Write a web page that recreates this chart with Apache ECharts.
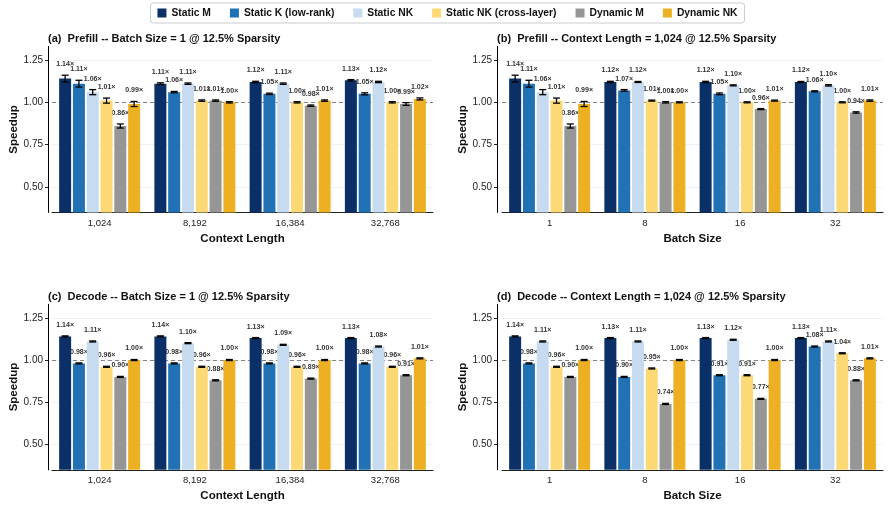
<!DOCTYPE html>
<html>
<head>
<meta charset="utf-8">
<script src="https://cdn.jsdelivr.net/npm/echarts@6/dist/echarts.min.js"></script>
<style>
  html, body { margin: 0; padding: 0; background: #fff; }
  #echarts { width: 895px; height: 507px; }
</style>
</head>
<body>
<div id="echarts"></div>
<script>
// series / categories
var seriesNames = ['Static M', 'Static K (low-rank)', 'Static NK', 'Static NK (cross-layer)', 'Dynamic M', 'Dynamic NK'];
var colors = ['#0b3067', '#2171b5', '#c6dbef', '#fdd976', '#969696', '#ecb022'];
var contextLabels = ['1,024', '8,192', '16,384', '32,768'];
var batchLabels = ['1', '8', '16', '32'];
var yTicks = [0.5, 0.75, 1.0, 1.25];

// (a) prefill, batch size 1 -- one row per series, one column per context length
var prefillCtx = [
  [1.14, 1.11, 1.12, 1.13],
  [1.11, 1.06, 1.05, 1.05],
  [1.06, 1.11, 1.11, 1.12],
  [1.01, 1.01, 1.00, 1.00],
  [0.86, 1.01, 0.98, 0.99],
  [0.99, 1.00, 1.01, 1.02]
];
var prefillCtxErr = [
  [0.020, 0.005, 0.004, 0.004],
  [0.020, 0.004, 0.004, 0.006],
  [0.015, 0.004, 0.004, 0.004],
  [0.015, 0.004, 0.004, 0.004],
  [0.012, 0.004, 0.004, 0.008],
  [0.015, 0.004, 0.004, 0.006]
];
// (b) prefill, context length 1,024 -- columns are batch sizes
var prefillBatch = [
  [1.14, 1.12, 1.12, 1.12],
  [1.11, 1.07, 1.05, 1.065],
  [1.06, 1.12, 1.10, 1.10],
  [1.01, 1.01, 1.00, 1.00],
  [0.86, 1.00, 0.96, 0.94],
  [0.99, 1.00, 1.01, 1.01]
];
var prefillBatchErr = [
  [0.020, 0.004, 0.004, 0.003],
  [0.020, 0.005, 0.005, 0.003],
  [0.015, 0.003, 0.003, 0.004],
  [0.015, 0.003, 0.003, 0.003],
  [0.012, 0.004, 0.003, 0.004],
  [0.015, 0.003, 0.003, 0.004]
];
// (c) decode, batch size 1
var decodeCtx = [
  [1.14, 1.14, 1.13, 1.13],
  [0.98, 0.98, 0.98, 0.98],
  [1.11, 1.10, 1.09, 1.08],
  [0.96, 0.96, 0.96, 0.96],
  [0.90, 0.88, 0.89, 0.91],
  [1.00, 1.00, 1.00, 1.01]
];
// (d) decode, context length 1,024
var decodeBatch = [
  [1.14, 1.13, 1.13, 1.13],
  [0.98, 0.90, 0.91, 1.08],
  [1.11, 1.11, 1.12, 1.11],
  [0.96, 0.95, 0.91, 1.04],
  [0.90, 0.74, 0.77, 0.88],
  [1.00, 1.00, 1.00, 1.01]
];
var decodeErr = [
  [0.003, 0.003, 0.003, 0.003],
  [0.003, 0.003, 0.003, 0.003],
  [0.003, 0.003, 0.003, 0.003],
  [0.003, 0.003, 0.003, 0.003],
  [0.003, 0.003, 0.003, 0.003],
  [0.003, 0.003, 0.003, 0.003]
];

var panels = [
  { title: '(a)  Prefill -- Batch Size = 1 @ 12.5% Sparsity', cats: contextLabels, xName: 'Context Length', vals: prefillCtx, errs: prefillCtxErr, left: 52, top: 46.4, height: 166, offset: 4 },
  { title: '(b)  Prefill -- Context Length = 1,024 @ 12.5% Sparsity', cats: batchLabels, xName: 'Batch Size', vals: prefillBatch, errs: prefillBatchErr, left: 502, top: 46.4, height: 166, offset: 5 },
  { title: '(c)  Decode -- Batch Size = 1 @ 12.5% Sparsity', cats: contextLabels, xName: 'Context Length', vals: decodeCtx, errs: decodeErr, left: 52, top: 304.3, height: 165.5, offset: 4 },
  { title: '(d)  Decode -- Context Length = 1,024 @ 12.5% Sparsity', cats: batchLabels, xName: 'Batch Size', vals: decodeBatch, errs: decodeErr, left: 502, top: 304.3, height: 165.5, offset: 5 }
];

var BAR_W = 12;
var BAR_GAP = 0.15;
var FONT = 'Liberation Sans';

function barX(api, c, v, s) {
  var p = api.coord([c, v]);
  return p[0] + (s - 2.5) * BAR_W * (1 + BAR_GAP);
}

function renderErr(params, api) {
  var c = api.value(0), v = api.value(1), e = api.value(2), s = api.value(3);
  var x = barX(api, c, v, s);
  var yt = api.coord([c, v + e])[1];
  var yb = api.coord([c, v - e])[1];
  var st = { stroke: '#000', lineWidth: 1.3 };
  return {
    type: 'group',
    children: [
      { type: 'line', shape: { x1: x, y1: yt, x2: x, y2: yb }, style: st },
      { type: 'line', shape: { x1: x - 3.5, y1: yt, x2: x + 3.5, y2: yt }, style: st },
      { type: 'line', shape: { x1: x - 3.5, y1: yb, x2: x + 3.5, y2: yb }, style: st }
    ]
  };
}

function renderLabel(params, api) {
  var c = api.value(0), v = api.value(1), e = api.value(2), s = api.value(3);
  var x = barX(api, c, v, s);
  var yt = api.coord([c, v + e])[1];
  return {
    type: 'text',
    x: x,
    y: yt - 11,
    style: {
      text: v.toFixed(2) + '\u00d7',
      fill: '#333',
      font: 'bold 7px ' + FONT,
      align: 'center',
      verticalAlign: 'middle'
    }
  };
}

var titles = [], grids = [], xAxes = [], yAxes = [], series = [];

panels.forEach(function (p, i) {
  titles.push({
    text: p.title,
    left: p.left - p.offset - 5,
    top: p.top - 18,
    textStyle: { fontFamily: FONT, fontSize: 11, fontWeight: 'bold', color: '#111' }
  });
  grids.push({ left: p.left, top: p.top, width: 381, height: p.height });
  xAxes.push({
    type: 'category',
    gridIndex: i,
    data: p.cats,
    axisLine: { lineStyle: { color: '#222', width: 1 } },
    axisTick: { alignWithLabel: true, length: 3, lineStyle: { color: '#222' } },
    axisLabel: { fontFamily: FONT, fontSize: 9.5, color: '#222', margin: 6 },
    name: p.xName,
    nameLocation: 'middle',
    nameGap: 20,
    nameTextStyle: { fontFamily: FONT, fontSize: 11.5, fontWeight: 'bold', color: '#111' }
  });
  yAxes.push({
    type: 'value',
    gridIndex: i,
    min: 0.35,
    max: 1.33,
    offset: p.offset,
    axisLine: { show: true, lineStyle: { color: '#000', width: 1 } },
    axisTick: { show: true, length: 3, customValues: yTicks, lineStyle: { color: '#222' } },
    axisLabel: {
      customValues: yTicks,
      fontFamily: FONT, fontSize: 10, color: '#222', margin: 5,
      formatter: function (v) { return v.toFixed(2); }
    },
    splitLine: { show: true, lineStyle: { color: '#eeeeee', width: 0.8 } },
    name: 'Speedup',
    nameLocation: 'middle',
    nameGap: 27,
    nameTextStyle: { fontFamily: FONT, fontSize: 11.5, fontWeight: 'bold', color: '#111' }
  });

  var pts = [];
  p.vals.forEach(function (row, s) {
    var bar = {
      type: 'bar',
      name: seriesNames[s],
      xAxisIndex: i,
      yAxisIndex: i,
      data: row,
      barWidth: BAR_W,
      barGap: (BAR_GAP * 100) + '%',
      itemStyle: { color: colors[s] },
      z: 2
    };
    if (s === 0) {
      bar.markLine = {
        silent: true,
        symbol: 'none',
        z: 1,
        label: { show: false },
        lineStyle: { color: '#777', type: [4, 3], width: 0.9 },
        data: [{ yAxis: 1 }]
      };
    }
    series.push(bar);
    row.forEach(function (v, c) { pts.push([c, v, p.errs[s][c], s]); });
  });

  series.push({
    type: 'custom', xAxisIndex: i, yAxisIndex: i, z: 1, clip: false,
    renderItem: renderLabel, data: pts, encode: { x: 0, y: 1 }, silent: true
  });
  series.push({
    type: 'custom', xAxisIndex: i, yAxisIndex: i, z: 3, clip: false,
    renderItem: renderErr, data: pts, encode: { x: 0, y: 1 }, silent: true
  });
});

var myChart = echarts.init(document.getElementById('echarts'), null, { renderer: 'canvas' });
var option = {
  animation: false,
  backgroundColor: '#fff',
  color: colors,
  title: titles,
  legend: {
    data: seriesNames,
    top: 3,
    left: 'center',
    icon: 'rect',
    itemWidth: 9,
    itemHeight: 9,
    itemGap: 19,
    padding: [5, 7],
    borderColor: '#cccccc',
    borderWidth: 1,
    borderRadius: 3,
    textStyle: { fontFamily: FONT, fontSize: 10.3, fontWeight: 'bold', color: '#111' }
  },
  grid: grids,
  xAxis: xAxes,
  yAxis: yAxes,
  series: series
};
myChart.setOption(option);
</script>
</body>
</html>
